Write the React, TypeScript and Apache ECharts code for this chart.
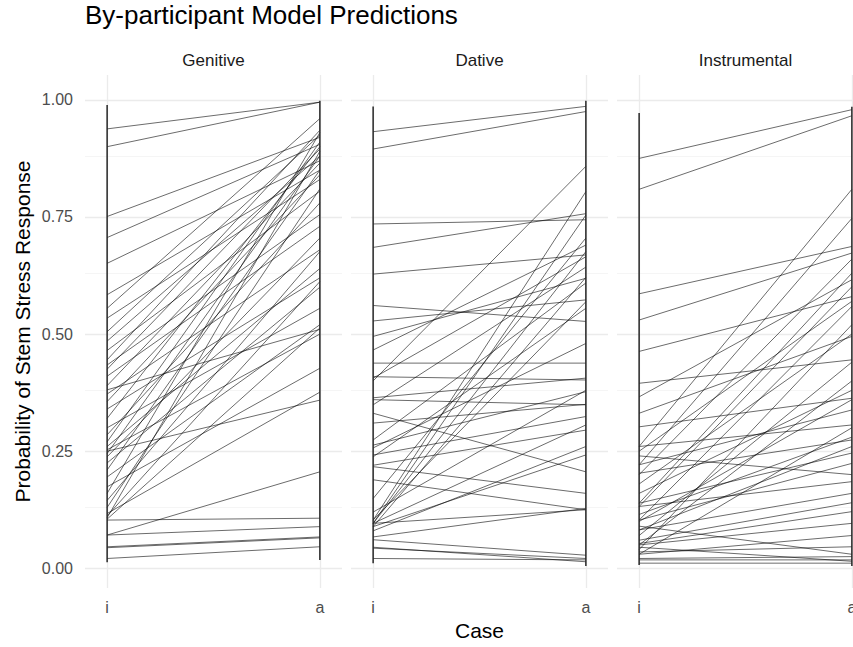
import React, { useEffect, useRef } from "react";
import * as echarts from "echarts";

// Per-participant predicted probabilities at case "i" and case "a"
const caseLabels = ["i", "a"];
const facetNames = ["Genitive", "Dative", "Instrumental"];

const genitiveI = [0.938, 0.900, 0.751, 0.706, 0.651, 0.584, 0.555, 0.534, 0.505, 0.485, 0.465, 0.445, 0.434, 0.425, 0.410, 0.390, 0.381, 0.372, 0.356, 0.340, 0.320, 0.300, 0.285, 0.270, 0.260, 0.253, 0.245, 0.238, 0.225, 0.210, 0.195, 0.174, 0.160, 0.145, 0.130, 0.117, 0.112, 0.108, 0.105, 0.250, 0.103, 0.071, 0.071, 0.046, 0.044, 0.021];
const genitiveA = [0.995, 0.995, 0.920, 0.905, 0.870, 0.850, 0.960, 0.830, 0.925, 0.880, 0.805, 0.935, 0.755, 0.895, 0.730, 0.865, 0.510, 0.680, 0.840, 0.620, 0.900, 0.555, 0.780, 0.910, 0.640, 0.500, 0.880, 0.705, 0.600, 0.850, 0.520, 0.427, 0.930, 0.676, 0.810, 0.376, 0.612, 0.890, 0.513, 0.359, 0.107, 0.089, 0.206, 0.067, 0.065, 0.046];

const dativeI = [0.932, 0.895, 0.735, 0.685, 0.628, 0.561, 0.528, 0.495, 0.466, 0.438, 0.409, 0.406, 0.400, 0.364, 0.360, 0.349, 0.331, 0.310, 0.274, 0.263, 0.257, 0.242, 0.238, 0.220, 0.217, 0.189, 0.149, 0.120, 0.103, 0.103, 0.096, 0.096, 0.096, 0.096, 0.089, 0.089, 0.080, 0.067, 0.061, 0.045, 0.043, 0.021];
const dativeA = [0.986, 0.975, 0.744, 0.757, 0.669, 0.527, 0.573, 0.619, 0.690, 0.438, 0.402, 0.665, 0.858, 0.406, 0.349, 0.643, 0.206, 0.350, 0.609, 0.377, 0.480, 0.324, 0.555, 0.295, 0.160, 0.125, 0.705, 0.380, 0.804, 0.569, 0.754, 0.306, 0.676, 0.125, 0.242, 0.621, 0.260, 0.128, 0.028, 0.014, 0.021, 0.018];

const instrumentalI = [0.875, 0.809, 0.586, 0.530, 0.463, 0.395, 0.366, 0.331, 0.302, 0.260, 0.260, 0.250, 0.240, 0.221, 0.221, 0.203, 0.200, 0.180, 0.160, 0.139, 0.139, 0.132, 0.132, 0.115, 0.103, 0.103, 0.100, 0.090, 0.082, 0.082, 0.070, 0.060, 0.053, 0.050, 0.050, 0.045, 0.040, 0.035, 0.030, 0.030, 0.021, 0.018, 0.011];
const instrumentalA = [0.979, 0.966, 0.687, 0.673, 0.580, 0.445, 0.616, 0.495, 0.363, 0.809, 0.306, 0.570, 0.200, 0.747, 0.338, 0.274, 0.660, 0.500, 0.380, 0.630, 0.246, 0.185, 0.601, 0.280, 0.559, 0.224, 0.360, 0.030, 0.160, 0.260, 0.440, 0.140, 0.121, 0.096, 0.400, 0.015, 0.520, 0.046, 0.300, 0.070, 0.025, 0.018, 0.011];

// Extent of the vertical rules drawn at each case position
const genitiveSpanI = [0.013, 0.989];
const genitiveSpanA = [0.018, 0.998];
const dativeSpanI = [0.011, 0.986];
const dativeSpanA = [0.005, 0.998];
const instrumentalSpanI = [0.007, 0.972];
const instrumentalSpanA = [0.005, 0.985];

const yTicks = [0, 0.25, 0.5, 0.75, 1];
const yMinorTicks = [0.125, 0.375, 0.625, 0.875];

const FONT = '"Liberation Sans", Arial, sans-serif';

export default function App() {
  const ref = useRef<HTMLDivElement>(null);

  useEffect(() => {
    if (!ref.current) return;
    const chart = echarts.init(ref.current, undefined, { renderer: "svg" });

    const facets = [
      { i: genitiveI, a: genitiveA, spanI: genitiveSpanI, spanA: genitiveSpanA },
      { i: dativeI, a: dativeA, spanI: dativeSpanI, spanA: dativeSpanA },
      { i: instrumentalI, a: instrumentalA, spanI: instrumentalSpanI, spanA: instrumentalSpanA },
    ];

    const panelLeft = [85, 351, 617];
    const panelWidth = 257;
    const panelTop = 75;
    const panelHeight = 513;

    const grids = panelLeft.map((left) => ({
      left,
      top: panelTop,
      width: panelWidth,
      height: panelHeight,
      containLabel: false,
    }));

    const xAxes = panelLeft.map((_, k) => ({
      type: "value",
      gridIndex: k,
      min: -0.104,
      max: 1.104,
      axisLine: { show: false },
      axisTick: { show: false, customValues: [0, 1] },
      splitLine: { show: false },
      axisLabel: {
        customValues: [0, 1],
        formatter: (v: number) => caseLabels[Math.round(v)],
        color: "#4d4d4d",
        fontSize: 16,
        fontFamily: FONT,
        margin: 11,
      },
      name: k === 1 ? "Case" : "",
      nameLocation: "middle",
      nameGap: 32,
      nameTextStyle: { color: "#000", fontSize: 21, fontFamily: FONT },
    }));

    const yAxes = panelLeft.map((_, k) => ({
      type: "value",
      gridIndex: k,
      min: -0.042,
      max: 1.053,
      axisLine: { show: false },
      axisTick: { show: false, customValues: yTicks },
      splitLine: { show: false },
      axisLabel: {
        show: k === 0,
        customValues: yTicks,
        formatter: (v: number) => v.toFixed(2),
        color: "#4d4d4d",
        fontSize: 16,
        fontFamily: FONT,
        margin: 12,
      },
      name: k === 0 ? "Probability of Stem Stress Response" : "",
      nameLocation: "middle",
      nameGap: 52,
      nameRotate: 90,
      nameTextStyle: { color: "#000", fontSize: 21, fontFamily: FONT },
    }));

    const series: any[] = [];

    facets.forEach((f, k) => {
      // panel grid lines
      series.push({
        type: "line",
        xAxisIndex: k,
        yAxisIndex: k,
        data: [],
        silent: true,
        z: 0,
        zlevel: 0,
        markLine: {
          silent: true,
          z: 0,
          symbol: ["none", "none"],
          label: { show: false },
          animation: false,
          data: [
            ...yMinorTicks.map((v) => ({ yAxis: v, lineStyle: { color: "#f0f0f0", width: 0.7, type: "solid" } })),
            ...yTicks.map((v) => ({ yAxis: v, lineStyle: { color: "#ebebeb", width: 1.3, type: "solid" } })),
            ...[0, 1].map((v) => ({ xAxis: v, lineStyle: { color: "#ebebeb", width: 1.3, type: "solid" } })),
          ],
        },
      });

      // one line per participant
      f.i.forEach((vi, p) => {
        series.push({
          type: "line",
          xAxisIndex: k,
          yAxisIndex: k,
          data: [
            [0, vi],
            [1, f.a[p]],
          ],
          symbol: "none",
          silent: true,
          z: 2,
          lineStyle: { color: "rgba(0,0,0,0.58)", width: 1 },
        });
      });

      // vertical rules at each case
      [
        [0, f.spanI],
        [1, f.spanA],
      ].forEach(([x, span]: any) => {
        series.push({
          type: "line",
          xAxisIndex: k,
          yAxisIndex: k,
          data: [
            [x, span[0]],
            [x, span[1]],
          ],
          symbol: "none",
          silent: true,
          z: 5,
          lineStyle: { color: "#262626", width: 1.5, opacity: 1 },
        });
      });
    });

    const stripText = facetNames.map((name, k) => ({
      type: "text",
      x: panelLeft[k] + panelWidth / 2,
      y: 60,
      style: {
        text: name,
        fill: "#1a1a1a",
        fontSize: 17,
        fontFamily: FONT,
        align: "center",
        verticalAlign: "middle",
      },
    }));

    chart.setOption({
      animation: false,
      backgroundColor: "#ffffff",
      title: {
        text: "By-participant Model Predictions",
        left: 85,
        top: 2,
        padding: 0,
        textStyle: { color: "#000", fontSize: 26, fontWeight: "normal", fontFamily: FONT },
      },
      grid: grids,
      xAxis: xAxes,
      yAxis: yAxes,
      series,
      graphic: stripText,
    });

    return () => chart.dispose();
  }, []);

  // The last facet runs past the right edge of the frame and is cut off there.
  return (
    <div
      style={{ position: "fixed", left: 0, top: 0, width: 853, height: 647, overflow: "hidden", background: "#fff" }}
    >
      <div ref={ref} style={{ width: 890, height: 647 }} />
    </div>
  );
}
